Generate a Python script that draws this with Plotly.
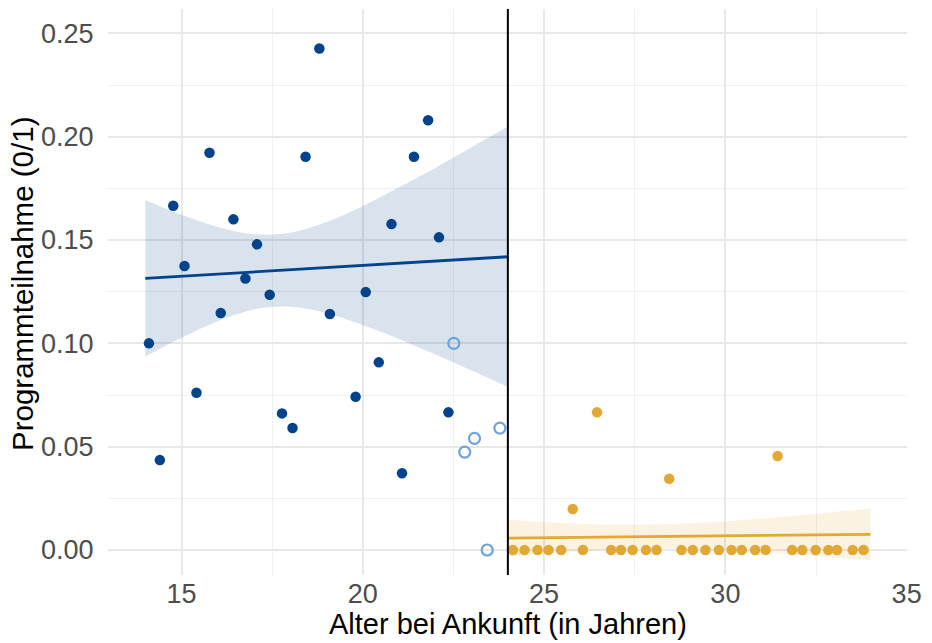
import plotly.graph_objects as go

# ---- data ----
blue_x = [18.80, 15.77, 18.42, 21.80, 21.41, 14.77, 16.43, 17.08, 20.79, 22.10,
          15.08, 16.76, 17.43, 20.08, 14.10, 16.08, 19.09, 20.44, 15.41, 19.80,
          17.77, 18.06, 22.36, 14.40, 21.08]
blue_y = [0.2427, 0.1922, 0.1903, 0.2080, 0.1903, 0.1666, 0.1600, 0.1479, 0.1577, 0.1513,
          0.1374, 0.1314, 0.1235, 0.1248, 0.1000, 0.1147, 0.1142, 0.0908, 0.0761, 0.0742,
          0.0661, 0.0590, 0.0666, 0.0435, 0.0371]

open_x = [22.51, 23.78, 23.08, 22.81, 23.43]
open_y = [0.1000, 0.0590, 0.0540, 0.0474, 0.0000]

gold_x = [24.14, 24.46, 24.82, 25.12, 25.47, 25.79, 26.07, 26.46, 26.85, 27.12,
          27.44, 27.81, 28.10, 28.45, 28.79, 29.10, 29.45, 29.82, 30.17, 30.45,
          30.82, 31.11, 31.44, 31.84, 32.12, 32.49, 32.84, 33.08, 33.51, 33.81]
gold_y = [0, 0, 0, 0, 0, 0.0198, 0, 0.0666, 0, 0,
          0, 0, 0, 0.0345, 0, 0, 0, 0, 0, 0,
          0, 0, 0.0455, 0, 0, 0, 0, 0, 0, 0]

blue_fit_x = [14, 24]
blue_fit_y = [0.1314, 0.1419]
blue_band_x = [14, 15, 16, 17, 18, 19, 20, 21, 22, 23, 24]
blue_upper = [0.1692, 0.1622, 0.1563, 0.1528, 0.1535, 0.1587, 0.1665, 0.1755, 0.1850, 0.1949, 0.2049]
blue_lower = [0.0936, 0.1027, 0.1107, 0.1164, 0.1177, 0.1146, 0.1089, 0.1021, 0.0946, 0.0869, 0.0789]

gold_fit_x = [24, 34]
gold_fit_y = [0.0057, 0.0076]
gold_band_x = [24, 25, 26, 27, 28, 29, 30, 31, 32, 33, 34]
gold_upper = [0.0146, 0.0135, 0.0127, 0.0122, 0.0123, 0.0129, 0.0138, 0.0152, 0.0167, 0.0184, 0.0201]
gold_lower = [-0.0032, -0.0017, -0.0005, 0.0003, 0.0007, 0.0005, -0.0002, -0.0012, -0.0023, -0.0036, -0.0050]

cutoff = 24

x_title = "Alter bei Ankunft (in Jahren)"
y_title = "Programmteilnahme (0/1)"

# ---- styles ----
BLUE = "#00438a"
LIGHTBLUE = "#6fa3dc"
GOLD = "#e2a834"
FONT = "Liberation Sans"

fig = go.Figure()

# ribbons
fig.add_trace(go.Scatter(x=blue_band_x, y=blue_upper, mode="lines",
                         line=dict(width=0, shape="spline"), showlegend=False, hoverinfo="skip"))
fig.add_trace(go.Scatter(x=blue_band_x, y=blue_lower, mode="lines",
                         line=dict(width=0, shape="spline"), fill="tonexty",
                         fillcolor="rgba(0,67,138,0.15)", showlegend=False, hoverinfo="skip"))
fig.add_trace(go.Scatter(x=gold_band_x, y=gold_upper, mode="lines",
                         line=dict(width=0, shape="spline"), showlegend=False, hoverinfo="skip"))
fig.add_trace(go.Scatter(x=gold_band_x, y=gold_lower, mode="lines",
                         line=dict(width=0, shape="spline"), fill="tonexty",
                         fillcolor="rgba(226,168,52,0.15)", showlegend=False, hoverinfo="skip"))

# fit lines
fig.add_trace(go.Scatter(x=blue_fit_x, y=blue_fit_y, mode="lines",
                         line=dict(color=BLUE, width=2.8), showlegend=False))
fig.add_trace(go.Scatter(x=gold_fit_x, y=gold_fit_y, mode="lines",
                         line=dict(color=GOLD, width=2.8), showlegend=False))

# points
fig.add_trace(go.Scatter(x=blue_x, y=blue_y, mode="markers",
                         marker=dict(color=BLUE, size=10.5, line=dict(width=0)), showlegend=False))
fig.add_trace(go.Scatter(x=open_x, y=open_y, mode="markers",
                         marker=dict(symbol="circle-open", color=LIGHTBLUE, size=11,
                                     line=dict(width=2.2, color=LIGHTBLUE)), showlegend=False))
fig.add_trace(go.Scatter(x=gold_x, y=gold_y, mode="markers",
                         marker=dict(color=GOLD, size=10.5, line=dict(width=0)), showlegend=False))

fig.add_shape(type="line", x0=cutoff, x1=cutoff, y0=0, y1=1, xref="x", yref="paper",
              line=dict(color="black", width=2), layer="above")

# axis titles as annotations for exact placement
fig.add_annotation(text=x_title, xref="paper", yref="paper", x=0.5, y=0,
                   xanchor="center", yanchor="top", yshift=-31, showarrow=False,
                   font=dict(size=29, color="black", family=FONT))
fig.add_annotation(text=y_title, xref="paper", yref="paper", x=0, y=0.5,
                   xanchor="center", yanchor="middle", xshift=-86, yshift=8,
                   textangle=-90, showarrow=False,
                   font=dict(size=29.5, color="black", family=FONT))

fig.update_layout(
    width=932, height=643,
    margin=dict(l=108, r=25, t=9, b=68),
    plot_bgcolor="white", paper_bgcolor="white",
    font=dict(family=FONT, color="#4d4d4d"),
    showlegend=False,
)
fig.update_xaxes(
    range=[12.97, 35.01], tickvals=[15, 20, 25, 30, 35],
    showgrid=True, gridcolor="#e8e8e8", gridwidth=1.5,
    minor=dict(tickvals=[12.5, 17.5, 22.5, 27.5, 32.5], showgrid=True,
               gridcolor="#f0f0f0", gridwidth=1.1),
    zeroline=False, showline=False, automargin=False,
    ticks="",
    tickfont=dict(size=27, color="#4d4d4d", family=FONT),
)
fig.update_yaxes(
    range=[-0.0121, 0.2618], tickvals=[0, 0.05, 0.10, 0.15, 0.20, 0.25], tickformat=".2f",
    showgrid=True, gridcolor="#e8e8e8", gridwidth=1.5,
    minor=dict(tickvals=[0.025, 0.075, 0.125, 0.175, 0.225], showgrid=True,
               gridcolor="#f0f0f0", gridwidth=1.1),
    zeroline=False, showline=False, automargin=False,
    ticks="outside", ticklen=8, tickcolor="rgba(0,0,0,0)",
    tickfont=dict(size=27, color="#4d4d4d", family=FONT),
)

fig.write_html("out.html")
